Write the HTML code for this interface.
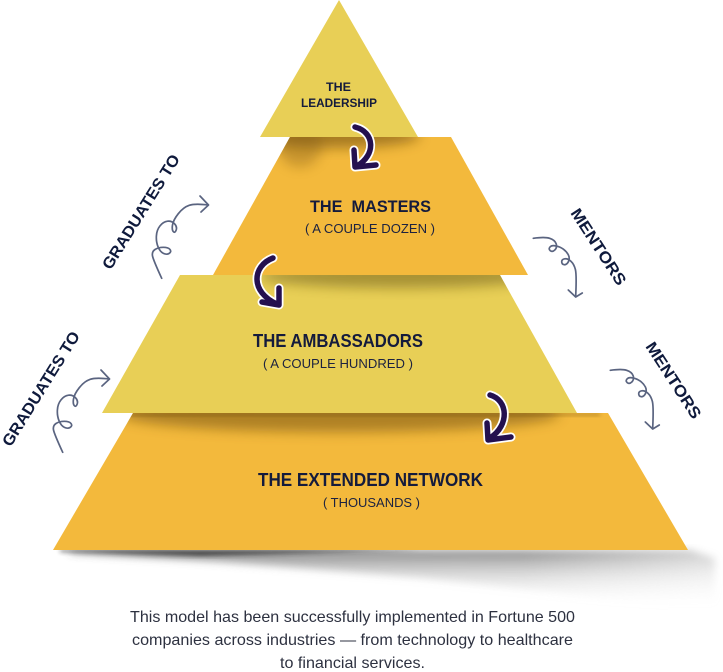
<!DOCTYPE html>
<html>
<head>
<meta charset="utf-8">
<style>
  html,body{margin:0;padding:0;background:#ffffff;}
  body{width:723px;height:672px;overflow:hidden;}
  svg{display:block;font-family:"Liberation Sans",sans-serif;}
</style>
</head>
<body>
<svg width="723" height="672" viewBox="0 0 723 672" xmlns="http://www.w3.org/2000/svg">
  <defs>
    <filter id="b6" x="-50%" y="-50%" width="200%" height="200%"><feGaussianBlur stdDeviation="6"/></filter>
    <filter id="b4" x="-50%" y="-50%" width="200%" height="200%"><feGaussianBlur stdDeviation="4"/></filter>
    <filter id="b2" x="-50%" y="-50%" width="200%" height="200%"><feGaussianBlur stdDeviation="2"/></filter>
    <clipPath id="cMast"><polygon points="290,137 451,137 528,275 213,275"/></clipPath>
    <clipPath id="cAmb"><polygon points="180,275 500,275 577,413 102,413"/></clipPath>
    <clipPath id="cExt"><polygon points="133,413 608,413 688,550 53,550"/></clipPath>
    <linearGradient id="gShadow" x1="0" y1="550" x2="0" y2="605" gradientUnits="userSpaceOnUse">
      <stop offset="0" stop-color="#4a4a4a" stop-opacity="0.7"/>
      <stop offset="0.5" stop-color="#a0a0a0" stop-opacity="0.35"/>
      <stop offset="1" stop-color="#dddddd" stop-opacity="0"/>
    </linearGradient>
    <linearGradient id="gFadeX" x1="60" y1="0" x2="723" y2="0" gradientUnits="userSpaceOnUse">
      <stop offset="0" stop-color="#fff" stop-opacity="1"/>
      <stop offset="0.7" stop-color="#fff" stop-opacity="0.9"/>
      <stop offset="1" stop-color="#fff" stop-opacity="0.35"/>
    </linearGradient>
    <mask id="mFade"><rect x="0" y="530" width="723" height="100" fill="url(#gFadeX)"/></mask>
  </defs>

  <!-- bottom shadow -->
  <g mask="url(#mFade)">
    <polygon points="70,550 690,550 715,558 715,608 600,598 420,578 220,562 70,553" fill="url(#gShadow)" filter="url(#b4)"/>
  </g>
  <polygon points="60,550 420,550 200,556 60,552" fill="#222" opacity="0.7" filter="url(#b2)"/>

  <!-- tiers -->
  <polygon points="133,413 608,413 688,550 53,550" fill="#F3B93C"/>
  <polygon points="180,275 500,275 577,413 102,413" fill="#E8CF56"/>
  <polygon points="290,137 451,137 528,275 213,275" fill="#F3B93C"/>
  <polygon points="339,0 418,137 260,137" fill="#E8CF56"/>

  <!-- tier top shadows -->
  <g clip-path="url(#cMast)">
    <ellipse cx="335" cy="136" rx="85" ry="12" fill="#6b4a10" opacity="0.55" filter="url(#b6)"/>
    <ellipse cx="300" cy="145" rx="22" ry="22" fill="#7a5412" opacity="0.35" filter="url(#b6)"/>
  </g>
  <g clip-path="url(#cAmb)">
    <ellipse cx="400" cy="276" rx="140" ry="12" fill="#5a4a10" opacity="0.45" filter="url(#b6)"/>
  </g>
  <g clip-path="url(#cExt)">
    <ellipse cx="340" cy="414" rx="220" ry="18" fill="#6b4a10" opacity="0.5" filter="url(#b6)"/>
    <rect x="100" y="413" width="500" height="3" fill="#5a3c08" opacity="0.35" filter="url(#b2)"/>
  </g>

  <!-- tier labels -->
  <g fill="#141b3c" font-weight="bold" text-anchor="middle">
    <text x="338.5" y="91" font-size="12" textLength="25" lengthAdjust="spacingAndGlyphs">THE</text>
    <text x="339" y="107" font-size="12" textLength="76" lengthAdjust="spacingAndGlyphs">LEADERSHIP</text>
    <text x="370.5" y="212" font-size="17" textLength="121" lengthAdjust="spacingAndGlyphs" style="white-space:pre">THE  MASTERS</text>
    <text x="338" y="347" font-size="18" textLength="170" lengthAdjust="spacingAndGlyphs">THE AMBASSADORS</text>
    <text x="370.5" y="486" font-size="18" textLength="225" lengthAdjust="spacingAndGlyphs">THE EXTENDED NETWORK</text>
  </g>
  <g fill="#1c2240" text-anchor="middle">
    <text x="370" y="233" font-size="12.5" textLength="130" lengthAdjust="spacingAndGlyphs">( A COUPLE DOZEN )</text>
    <text x="338" y="368" font-size="13" textLength="150" lengthAdjust="spacingAndGlyphs">( A COUPLE HUNDRED )</text>
    <text x="371.5" y="507" font-size="13" textLength="97" lengthAdjust="spacingAndGlyphs">( THOUSANDS )</text>
  </g>

  <!-- bold curved arrows -->
  <g fill="none" stroke-linecap="round" stroke-linejoin="round">
    <g stroke="#ffffff" stroke-width="9">
      <path d="M355,127 C375,132 376,155 357,166"/>
      <path d="M354,150 L355,167 L376,165"/>
      <path d="M273,258 C252,266 250,292 277,304"/>
      <path d="M279,288 L279,305 L262,302"/>
      <path d="M490,395 C508,400 510,425 490,438"/>
      <path d="M487,423 L488,440 L511,437"/>
    </g>
    <g stroke="#24104f" stroke-width="5.5">
      <path d="M355,127 C375,132 376,155 357,166"/>
      <path d="M354,150 L355,167 L376,165"/>
      <path d="M273,258 C252,266 250,292 277,304"/>
      <path d="M279,288 L279,305 L262,302"/>
      <path d="M490,395 C508,400 510,425 490,438"/>
      <path d="M487,423 L488,440 L511,437"/>
    </g>
  </g>

  <!-- squiggly arrows -->
  <g fill="none" stroke="#5a6480" stroke-width="1.7" stroke-linecap="round" stroke-linejoin="round">
    <g>
      <path d="M161.7,278.3 Q153.3,260 152.5,255.9 Q151.7,251.7 155,249.5 Q158.3,247.3 163.3,247.3 Q168.3,247.3 170,249.5 Q171.7,251.7 169.2,253.4 Q166.7,255 163.4,253.4 Q160,251.7 158,246.7 Q156,241.7 156.4,235.9 Q156.7,230 160,225.9 Q163.3,221.7 167.5,221.2 Q171.7,220.7 174.5,223.7 Q177.3,226.7 176.2,230 Q175,233.3 173.4,231.7 Q171.7,230 172.5,225 Q173.3,220 178.3,213.7 Q183.3,207.3 189.2,205.3 Q195,203.3 208.3,205"/>
      <path d="M200,196 L208.5,205 L201,212"/>
    </g>
    <g transform="translate(-99,174)">
      <path d="M161.7,278.3 Q153.3,260 152.5,255.9 Q151.7,251.7 155,249.5 Q158.3,247.3 163.3,247.3 Q168.3,247.3 170,249.5 Q171.7,251.7 169.2,253.4 Q166.7,255 163.4,253.4 Q160,251.7 158,246.7 Q156,241.7 156.4,235.9 Q156.7,230 160,225.9 Q163.3,221.7 167.5,221.2 Q171.7,220.7 174.5,223.7 Q177.3,226.7 176.2,230 Q175,233.3 173.4,231.7 Q171.7,230 172.5,225 Q173.3,220 178.3,213.7 Q183.3,207.3 189.2,205.3 Q195,203.3 208.3,205"/>
      <path d="M200,196 L208.5,205 L201,212"/>
    </g>
    <g>
      <path d="M533.3,238.3 Q545,236.7 550,238.4 Q555,240 556.2,243.9 Q557.3,247.7 554.8,250 Q552.3,252.3 550.3,250.7 Q548.3,249 550,247 Q551.7,245 555.9,245.9 Q560,246.7 563.4,249.2 Q566.7,251.7 568.4,255 Q570,258.3 568.4,261.7 Q566.7,265 564.2,264.7 Q561.7,264.3 561.7,261.8 Q561.7,259.3 564.7,258.8 Q567.7,258.3 570.9,261.2 Q574,264 575.4,269.5 Q576.7,275 575.7,296"/>
      <path d="M568.3,290 L575.7,297 L582.3,293"/>
    </g>
    <g transform="translate(77,132)">
      <path d="M533.3,238.3 Q545,236.7 550,238.4 Q555,240 556.2,243.9 Q557.3,247.7 554.8,250 Q552.3,252.3 550.3,250.7 Q548.3,249 550,247 Q551.7,245 555.9,245.9 Q560,246.7 563.4,249.2 Q566.7,251.7 568.4,255 Q570,258.3 568.4,261.7 Q566.7,265 564.2,264.7 Q561.7,264.3 561.7,261.8 Q561.7,259.3 564.7,258.8 Q567.7,258.3 570.9,261.2 Q574,264 575.4,269.5 Q576.7,275 575.7,296"/>
      <path d="M568.3,290 L575.7,297 L582.3,293"/>
    </g>
  </g>

  <!-- rotated side labels -->
  <g fill="#0f1a3c" font-weight="bold" font-size="16" text-anchor="middle">
    <text transform="translate(140.5,211.5) rotate(-58)" x="0" y="6" textLength="132" lengthAdjust="spacingAndGlyphs">GRADUATES TO</text>
    <text transform="translate(40.5,388.5) rotate(-58)" x="0" y="6" textLength="132" lengthAdjust="spacingAndGlyphs">GRADUATES TO</text>
    <text transform="translate(599,246.5) rotate(57)" x="0" y="6" textLength="88" lengthAdjust="spacingAndGlyphs">MENTORS</text>
    <text transform="translate(674,380) rotate(57)" x="0" y="6" textLength="88" lengthAdjust="spacingAndGlyphs">MENTORS</text>
  </g>

  <!-- caption -->
  <g fill="#2d3140" font-size="16" text-anchor="middle">
    <text x="352.5" y="622" textLength="445" lengthAdjust="spacingAndGlyphs">This model has been successfully implemented in Fortune 500</text>
    <text x="352.5" y="645" textLength="441" lengthAdjust="spacingAndGlyphs">companies across industries — from technology to healthcare</text>
    <text x="352.5" y="668" textLength="145" lengthAdjust="spacingAndGlyphs">to financial services.</text>
  </g>
</svg>
</body>
</html>
